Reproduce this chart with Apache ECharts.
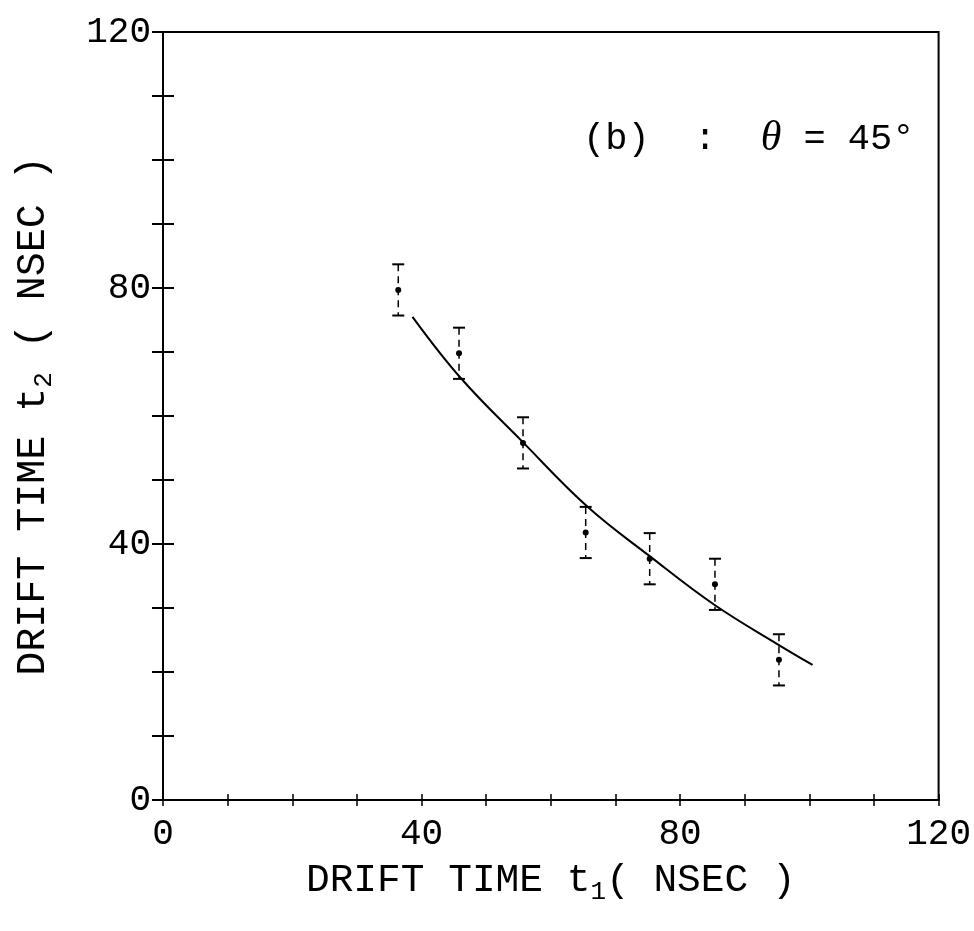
<!DOCTYPE html>
<html>
<head>
<meta charset="utf-8">
<script src="https://cdn.jsdelivr.net/npm/echarts@6/dist/echarts.min.js"></script>
<style>
  html, body { margin: 0; padding: 0; background: #fff; }
  #chart { width: 974px; height: 931px; }
</style>
</head>
<body>
<div id="chart"></div>
<script>
// measured points (t1, t2) with error half-width
var t1 = [36.4, 45.8, 55.7, 65.4, 75.3, 85.4, 95.3];
var t2 = [79.7, 69.8, 55.8, 41.8, 37.7, 33.7, 21.9];
var err = [4, 4, 4, 4, 4, 4, 4];

// fitted curve
var fitT1 = [38.6, 46.1, 55.6, 65.6, 75.3, 85.3, 95.3, 100.5];
var fitT2 = [75.5, 65.9, 56.0, 45.9, 38.1, 30.5, 24.2, 21.1];

var labelValues = [0, 40, 80, 120];

var chart = echarts.init(document.getElementById("chart"));
var font = "Liberation Mono";

var points = t1.map(function (x, i) {
  return [x, t2[i], err[i]];
});
var fit = fitT1.map(function (x, i) {
  return [x, fitT2[i]];
});

function tickLabel(v) {
  return labelValues.indexOf(v) >= 0 ? String(v) : "";
}

var option = {
  backgroundColor: "#fff",
  animation: false,
  grid: {
    left: 163,
    right: 31,
    top: 32,
    bottom: 131,
    show: true,
    borderColor: "#000",
    borderWidth: 2,
  },
  xAxis: [
    {
      type: "value",
      min: 0,
      max: 120,
      interval: 10,
      name: "{a|DRIFT TIME t}{s|1}{a|( NSEC )}",
      nameLocation: "middle",
      nameGap: 57,
      nameTextStyle: {
        rich: {
          a: { fontFamily: font, fontSize: 39.5, color: "#000" },
          s: { fontFamily: font, fontSize: 26, color: "#000", padding: [22, 0, 0, 0] },
        },
      },
      axisLine: { lineStyle: { color: "#000", width: 2 } },
      axisTick: { inside: false, length: 6, lineStyle: { color: "#000", width: 1.5 } },
      axisLabel: {
        margin: 16,
        formatter: tickLabel,
        fontFamily: font,
        fontSize: 36,
        color: "#000",
      },
      splitLine: { show: false },
    },
    {
      type: "value",
      min: 0,
      max: 120,
      interval: 10,
      position: "bottom",
      axisLine: { show: false },
      axisTick: { inside: true, length: 6, lineStyle: { color: "#000", width: 1.5 } },
      axisLabel: { show: false },
      splitLine: { show: false },
    },
  ],
  yAxis: [
    {
      type: "value",
      min: 0,
      max: 120,
      interval: 10,
      name: "{a|DRIFT TIME t}{s|2}{a| ( NSEC )}",
      nameLocation: "middle",
      nameGap: 106,
      nameTextStyle: {
        rich: {
          a: { fontFamily: font, fontSize: 40, color: "#000" },
          s: { fontFamily: font, fontSize: 26, color: "#000", padding: [22, 0, 0, 0] },
        },
      },
      axisLine: { lineStyle: { color: "#000", width: 2 } },
      axisTick: { inside: false, length: 11, lineStyle: { color: "#000", width: 2 } },
      axisLabel: {
        margin: 12,
        formatter: tickLabel,
        fontFamily: font,
        fontSize: 36,
        color: "#000",
      },
      splitLine: { show: false },
    },
    {
      type: "value",
      min: 0,
      max: 120,
      interval: 10,
      position: "left",
      axisLine: { show: false },
      axisTick: { inside: true, length: 11, lineStyle: { color: "#000", width: 2 } },
      axisLabel: { show: false },
      splitLine: { show: false },
    },
  ],
  graphic: [
    {
      type: "text",
      left: 583,
      top: 118,
      style: {
        text: "{a|(b)  :  }{t|θ}{a| = 45°}",
        rich: {
          a: { fontFamily: font, fontSize: 37, fill: "#000" },
          t: { fontFamily: "Liberation Serif", fontStyle: "italic", fontSize: 42, fill: "#000" },
        },
      },
    },
  ],
  series: [
    {
      type: "line",
      data: fit,
      smooth: 0.4,
      symbol: "none",
      lineStyle: { color: "#000", width: 2 },
    },
    {
      type: "custom",
      data: points,
      renderItem: function (params, api) {
        var x = api.value(0);
        var y = api.value(1);
        var e = api.value(2);
        var top = api.coord([x, y + e]);
        var bot = api.coord([x, y - e]);
        var mid = api.coord([x, y]);
        var cap = 6;
        var ls = { stroke: "#000", lineWidth: 2 };
        return {
          type: "group",
          children: [
            {
              type: "line",
              shape: { x1: top[0], y1: top[1], x2: bot[0], y2: bot[1] },
              style: { stroke: "#000", lineWidth: 1.5, lineDash: [7, 5] },
            },
            {
              type: "line",
              shape: { x1: top[0] - cap, y1: top[1], x2: top[0] + cap, y2: top[1] },
              style: ls,
            },
            {
              type: "line",
              shape: { x1: bot[0] - cap, y1: bot[1], x2: bot[0] + cap, y2: bot[1] },
              style: ls,
            },
            {
              type: "circle",
              shape: { cx: mid[0], cy: mid[1], r: 3 },
              style: { fill: "#000" },
            },
          ],
        };
      },
    },
  ],
};

chart.setOption(option);
</script>
</body>
</html>
